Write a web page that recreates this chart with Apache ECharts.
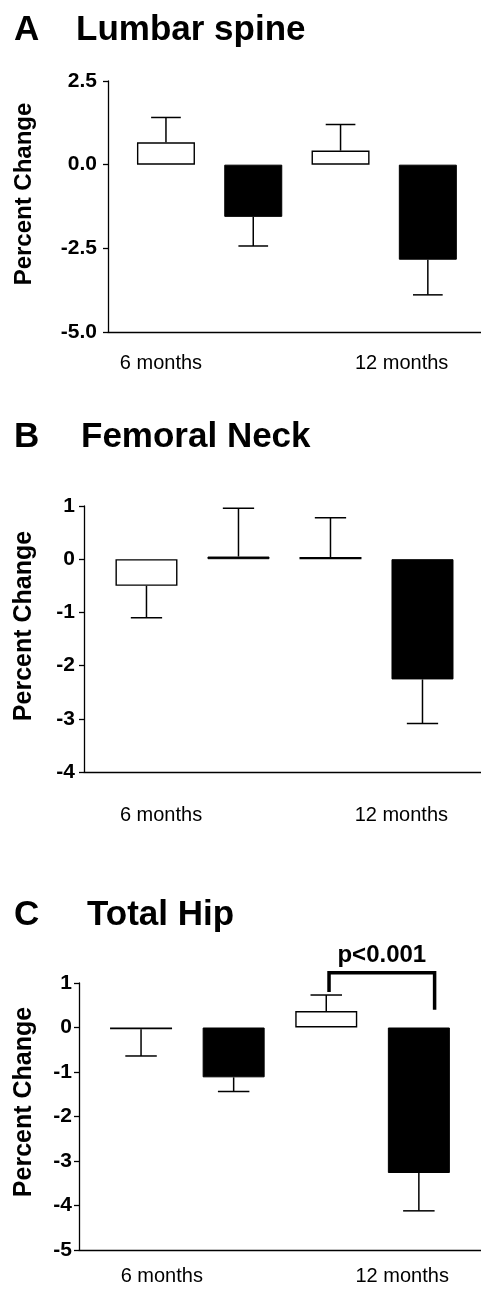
<!DOCTYPE html>
<html>
<head>
<meta charset="utf-8">
<script src="https://cdn.jsdelivr.net/npm/echarts@6/dist/echarts.min.js"></script>
<style>
  html, body { margin: 0; background: #fff; }
  #chart { width: 481px; height: 1299px; }
</style>
</head>
<body>
<div id="chart"></div>
<script>
// data (percent change, mean and error bar length)
const groupLabels = ['6 months', '12 months'];
const barSlots = [1, 2, 3, 4];
const barGroup = ['control', 'treated', 'control', 'treated'];

const lumbarMean = [0.67, -1.56, 0.42, -2.84];
const lumbarErr = [0.74, 0.87, 0.78, 1.05];

const neckMean = [-0.50, 0.05, 0.04, -2.26];
const neckErr = [0.60, 0.91, 0.74, 0.83];

const hipMean = [-0.04, -1.12, 0.37, -3.27];
const hipErr = [0.60, 0.32, 0.36, 0.85];

// significance bracket over the 12 month total hip bars
const hipBracket = [3.03, 4.17, 1.23, 0.80, 0.40];
const hipBracketLabel = 'p<0.001';

const FONT = '"Liberation Sans", Arial, Helvetica, sans-serif';

const panels = [
  { letter: 'A', title: 'Lumbar spine', mean: lumbarMean, err: lumbarErr,
    grid: { left: 108, top: 81, width: 373, height: 251 },
    xRange: [0.336, 4.609], yMin: -5, yMax: 2.5, yStep: 2.5, yDigits: 1,
    labelAt: [0.943, 3.70], xLabelMargin: 21, yLabelMargin: 11, barWidth: 58,
    titleY: 30, titleX: 76, nameY: 194, nameSize: 24 },
  { letter: 'B', title: 'Femoral Neck', mean: neckMean, err: neckErr,
    grid: { left: 84, top: 506, width: 397, height: 266 },
    xRange: [0.321, 4.636], yMin: -4, yMax: 1, yStep: 1, yDigits: 0,
    labelAt: [1.158, 3.77], xLabelMargin: 33, yLabelMargin: 9, barWidth: 62,
    titleY: 437, titleX: 81, nameY: 626, nameSize: 25 },
  { letter: 'C', title: 'Total Hip', mean: hipMean, err: hipErr,
    grid: { left: 79, top: 983, width: 402, height: 267 },
    xRange: [0.33, 4.671], yMin: -5, yMax: 1, yStep: 1, yDigits: 0,
    labelAt: [1.224, 3.82], xLabelMargin: 16, yLabelMargin: 7, barWidth: 62,
    titleY: 915, titleX: 87, nameY: 1102, nameSize: 25 },
];

const barStyle = {
  control: { color: '#ffffff', borderColor: '#000', borderWidth: 1.4 },
  treated: { color: '#000000', borderColor: '#000', borderWidth: 1 },
};

function errorBar(params, api) {
  const x = api.value(0);
  const mean = api.value(1);
  const err = api.value(2);
  const end = mean >= 0 ? mean + err : mean - err;
  const p0 = api.coord([x, mean]);
  const p1 = api.coord([x, end]);
  const half = api.size([0.17, 0])[0];
  const style = { stroke: '#000', lineWidth: 1.5, fill: null };
  return {
    type: 'group',
    children: [
      { type: 'line', shape: { x1: p0[0], y1: p0[1], x2: p1[0], y2: p1[1] }, style },
      { type: 'line', shape: { x1: p1[0] - half, y1: p1[1], x2: p1[0] + half, y2: p1[1] }, style },
    ],
  };
}

function bracket(params, api) {
  const a = api.coord([api.value(0), api.value(3)]);
  const b = api.coord([api.value(0), api.value(2)]);
  const c = api.coord([api.value(1), api.value(2)]);
  const d = api.coord([api.value(1), api.value(4)]);
  return {
    type: 'group',
    children: [
      { type: 'polyline', shape: { points: [a, b, c, d] },
        style: { stroke: '#000', lineWidth: 3.5, fill: null, lineJoin: 'miter' } },
      { type: 'text', x: (b[0] + c[0]) / 2, y: b[1] - 5,
        style: { text: hipBracketLabel, fill: '#000', font: 'bold 24px ' + FONT,
                 align: 'center', verticalAlign: 'bottom' } },
    ],
  };
}

const grids = [], xAxes = [], yAxes = [], series = [], graphics = [];

panels.forEach((p, i) => {
  grids.push(Object.assign({ containLabel: false }, p.grid));
  xAxes.push({
    type: 'value', gridIndex: i, min: p.xRange[0], max: p.xRange[1],
    axisLine: { show: true, onZero: false, lineStyle: { color: '#000', width: 1.3 } },
    axisTick: { show: false },
    splitLine: { show: false },
    axisLabel: {
      customValues: p.labelAt,
      formatter: (v) => groupLabels[p.labelAt.indexOf(v)] || '',
      margin: p.xLabelMargin, color: '#000', fontSize: 20, fontFamily: FONT,
    },
  });
  yAxes.push({
    type: 'value', gridIndex: i, min: p.yMin, max: p.yMax, interval: p.yStep,
    axisLine: { show: true, onZero: false, lineStyle: { color: '#000', width: 1.3 } },
    axisTick: { show: true, inside: false, length: 5, lineStyle: { color: '#000', width: 1.3 } },
    splitLine: { show: false },
    axisLabel: {
      formatter: (v) => v.toFixed(p.yDigits),
      margin: p.yLabelMargin, color: '#000', fontSize: 21, fontWeight: 'bold', fontFamily: FONT,
    },
  });
  series.push({
    type: 'bar', xAxisIndex: i, yAxisIndex: i, barWidth: p.barWidth,
    data: barSlots.map((s, k) => ({ value: [s, p.mean[k]], itemStyle: barStyle[barGroup[k]] })),
  });
  series.push({
    type: 'custom', xAxisIndex: i, yAxisIndex: i, renderItem: errorBar, z: 3,
    data: barSlots.map((s, k) => [s, p.mean[k], p.err[k]]),
  });
  graphics.push({
    type: 'text', x: 14, y: p.titleY,
    style: { text: p.letter, fill: '#000', font: 'bold 35px ' + FONT, verticalAlign: 'middle' },
  });
  graphics.push({
    type: 'text', x: p.titleX, y: p.titleY,
    style: { text: p.title, fill: '#000', font: 'bold 35px ' + FONT, verticalAlign: 'middle' },
  });
  graphics.push({
    type: 'text', x: 24, y: p.nameY, rotation: Math.PI / 2,
    style: { text: 'Percent Change', fill: '#000', font: 'bold ' + p.nameSize + 'px ' + FONT,
             align: 'center', verticalAlign: 'middle' },
  });
});

series.push({
  type: 'custom', xAxisIndex: 2, yAxisIndex: 2, renderItem: bracket, z: 4,
  data: [hipBracket],
});

const chart = echarts.init(document.getElementById('chart'), null, { renderer: 'canvas' });
chart.setOption({
  animation: false,
  backgroundColor: '#fff',
  grid: grids,
  xAxis: xAxes,
  yAxis: yAxes,
  series: series,
  graphic: graphics,
});
</script>
</body>
</html>
